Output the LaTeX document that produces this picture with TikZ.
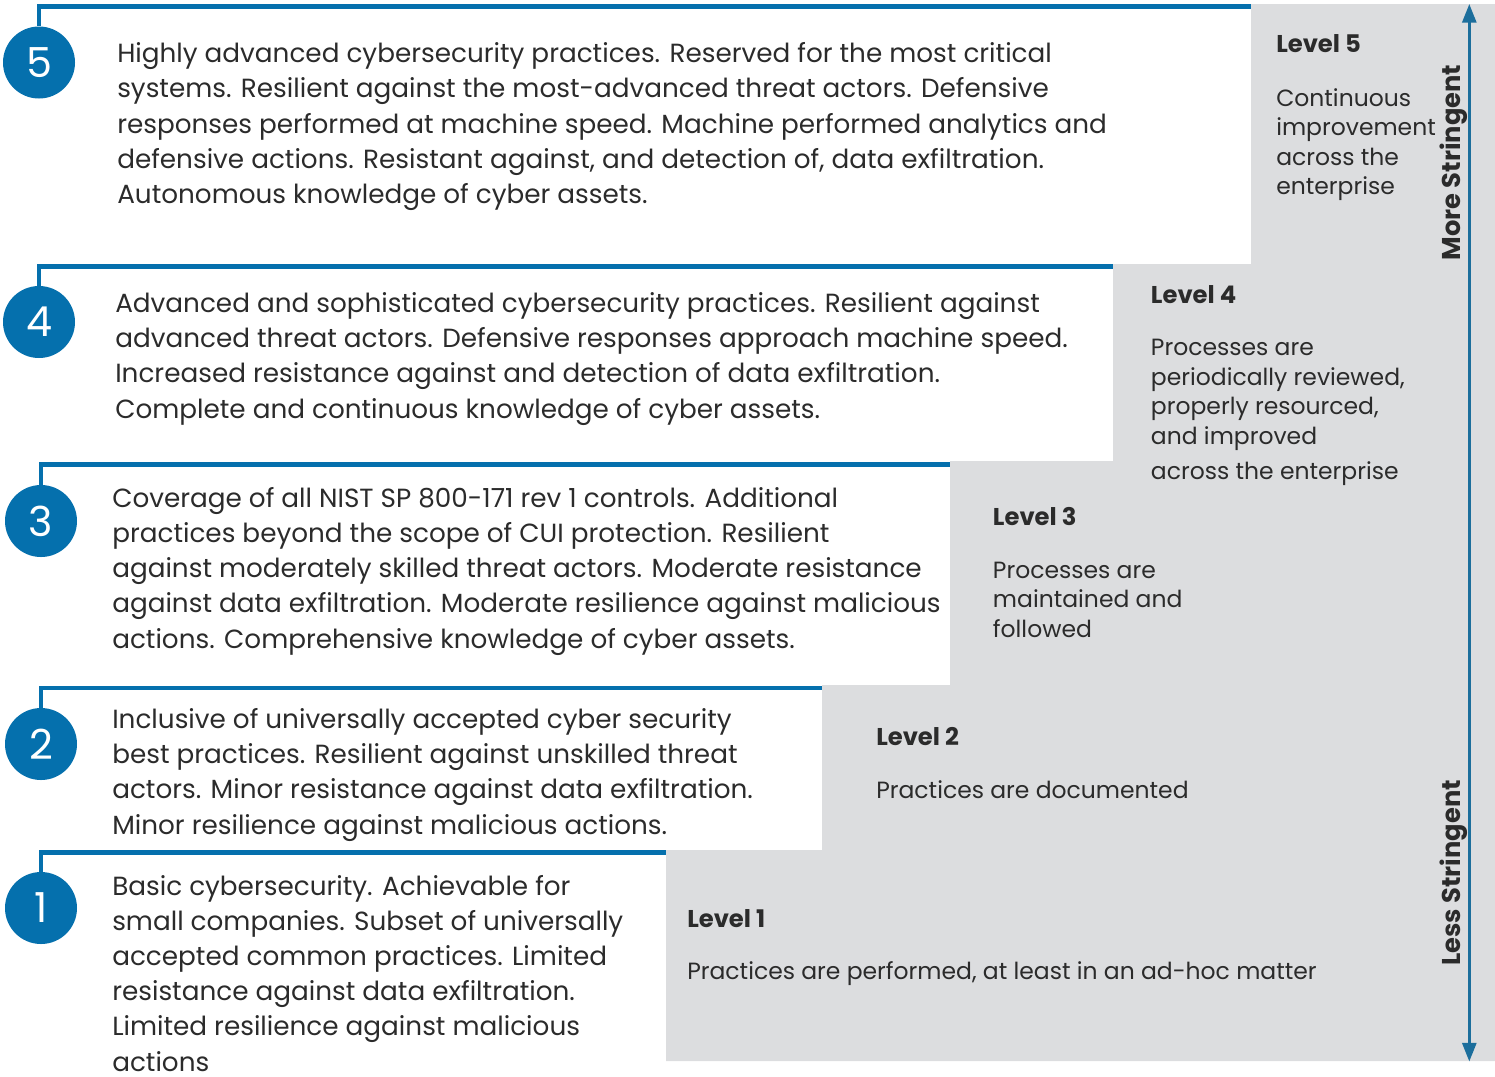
\documentclass[tikz,border=0pt]{standalone}
\usepackage{fontspec}
\setmainfont{Poppins}
\usepackage{tikz}
\usetikzlibrary{arrows.meta}
\definecolor{qqttaa}{rgb}{0.02,0.44,0.68}
\definecolor{wwttcc}{rgb}{0.11,0.43,0.61}
\definecolor{dcdddf}{rgb}{0.863,0.867,0.875}
\definecolor{ssssss}{rgb}{0.17,0.17,0.17}

\begin{document}
\begin{tikzpicture}[x=0.75pt,y=-0.75pt,
  boxtext/.style={anchor=base west,align=left,inner sep=0pt,text=ssssss,font=\fontsize{19.7}{26.4}\selectfont},
  leveltitle/.style={anchor=base west,inner sep=0pt,text=ssssss,font=\fontsize{18.2}{22}\selectfont\bfseries},
  levelbody/.style={anchor=base west,align=left,inner sep=0pt,text=ssssss,font=\fontsize{17.6}{22.1}\selectfont},
  numcirc/.style={circle,fill=qqttaa,minimum size=54pt,inner sep=0pt,text=white,font=\fontsize{31}{31}\selectfont},
  blueline/.style={draw=qqttaa,line width=3.4pt},
  stringent/.style={rotate=90,anchor=base,inner sep=0pt,text=ssssss,font=\fontsize{19.3}{22}\selectfont\bfseries}]
\useasboundingbox (0,0) rectangle (1495,1076);
% grey staircase
\fill[dcdddf] (1251,4) -- (1495,4) -- (1495,1061) -- (666,1061) -- (666,850) -- (822,850) -- (822,685) -- (950,685) -- (950,461) -- (1113,461) -- (1113,264) -- (1251,264) -- cycle;
% numbered circles
\node[numcirc] (c5) at (39,62.5) {5};
\node[numcirc] (c4) at (39,322) {4};
\node[numcirc] (c3) at (41,521) {3};
\node[numcirc] (c2) at (41,744) {2};
\node[numcirc] (c1) at (41,908) {1};
\coordinate (e5) at (1251,6.5);
\coordinate (e4) at (1113,266.5);
\coordinate (e3) at (950,464.5);
\coordinate (e2) at (822,688);
\coordinate (e1) at (666,852.5);
\draw[blueline] (c5.north) |- (e5);
\draw[blueline] (c4.north) |- (e4);
\draw[blueline] (c3.north) |- (e3);
\draw[blueline] (c2.north) |- (e2);
\draw[blueline] (c1.north) |- (e1);
% descriptions (placed at the baseline of their last line)
\node[boxtext] (t5) at (117,203.5) {Highly advanced cybersecurity practices. Reserved for the most critical\\systems. Resilient against the most-advanced threat actors. Defensive\\responses performed at machine speed. Machine performed analytics and\\defensive actions. Resistant against, and detection of, data exfiltration.\\Autonomous knowledge of cyber assets.};
\node[boxtext] (t4) at (115,418) {Advanced and sophisticated cybersecurity practices. Resilient against\\advanced threat actors. Defensive responses approach machine speed.\\Increased resistance against and detection of data exfiltration.\\Complete and continuous knowledge of cyber assets.};
\node[boxtext] (t3) at (112,648) {Coverage of all NIST SP 800-171 rev 1 controls. Additional\\practices beyond the scope of CUI protection. Resilient\\against moderately skilled threat actors. Moderate resistance\\against data exfiltration. Moderate resilience against malicious\\actions. Comprehensive knowledge of cyber assets.};
\node[boxtext] (t2) at (112,834) {Inclusive of universally accepted cyber security\\best practices. Resilient against unskilled threat\\actors. Minor resistance against data exfiltration.\\Minor resilience against malicious actions.};
\node[boxtext] (t1) at (112,1071) {Basic cybersecurity. Achievable for\\small companies. Subset of universally\\accepted common practices. Limited\\resistance against data exfiltration.\\Limited resilience against malicious\\actions};
% levels
\node[leveltitle] (l5) at (1276,52.7) {Level 5};
\node[levelbody] (p5) at (1276,194.5) {Continuous\\improvement\\across the\\enterprise};
\node[leveltitle] (l4) at (1150.7,303) {Level 4};
\node[levelbody] (p4) at (1150.7,479) {Processes are\\periodically reviewed,\\properly resourced,\\and improved\\[4pt]across the enterprise};
\node[leveltitle] (l3) at (992.7,525) {Level 3};
\node[levelbody] (p3) at (992.7,637) {Processes are\\maintained and\\followed};
\node[leveltitle] (l2) at (876,745) {Level 2};
\node[levelbody] (p2) at (876,798) {Practices are documented};
\node[leveltitle] (l1) at (687,927) {Level 1};
\node[levelbody] (p1) at (687,979) {Practices are performed, at least in an ad-hoc matter};
% stringency arrow
\coordinate (top) at (1469.3,4);
\coordinate (bot) at (1469.3,1061.5);
\draw[draw=wwttcc,line width=2.1pt,{Triangle[width=10.5pt,length=14pt]}-{Triangle[width=10.5pt,length=14pt]}] (bot) -- (top);
\node[stringent] (more) at (1460,162.5) {More Stringent};
\node[stringent] (less) at (1460,873) {Less Stringent};
\end{tikzpicture}
\end{document}
